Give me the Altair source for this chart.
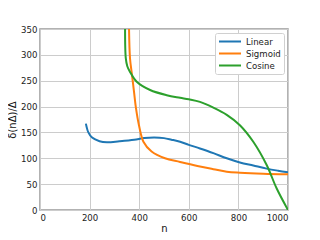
import altair as alt
import pandas as pd

linear_n = [185, 195, 210, 240, 270, 320, 380, 420, 460, 500, 530, 565, 600, 645, 699, 753, 806, 860, 914, 960, 1000]
linear_v = [167, 150, 140, 133, 131, 133, 136, 139, 140, 139, 136, 132, 126, 119, 110, 100, 92, 86, 80, 76, 73]

sigmoid_n = [359, 363, 371, 379, 387, 399, 417, 450, 504, 565, 645, 699, 753, 806, 900, 1000]
sigmoid_v = [350, 293, 261, 229, 197, 164, 132, 113, 100, 93, 84, 79, 74, 72, 70, 69]

cosine_n = [343, 346, 352, 363, 390, 444, 511, 565, 600, 645, 699, 753, 806, 860, 914, 954, 1000]
cosine_v = [350, 293, 278, 267, 248, 232, 222, 217, 214, 209, 198, 184, 164, 132, 87, 42, 0]

rows = []
for name, ns, vs in [("Linear", linear_n, linear_v), ("Sigmoid", sigmoid_n, sigmoid_v), ("Cosine", cosine_n, cosine_v)]:
    for n, v in zip(ns, vs):
        rows.append({"n": n, "v": v, "series": name})
df = pd.DataFrame(rows)

order = ["Linear", "Sigmoid", "Cosine"]
colors = ["#1f77b4", "#ff7f0e", "#2ca02c"]

chart = alt.Chart(df).mark_line(strokeWidth=2, clip=True, interpolate="catmull-rom").encode(
    x=alt.X("n:Q", scale=alt.Scale(domain=[0, 1000], nice=False),
            axis=alt.Axis(values=[0, 200, 400, 600, 800, 1000], title="n", format="d")),
    y=alt.Y("v:Q", scale=alt.Scale(domain=[0, 350], nice=False),
            axis=alt.Axis(values=[0, 50, 100, 150, 200, 250, 300, 350], title="δ(nΔ)/Δ")),
    color=alt.Color("series:N", scale=alt.Scale(domain=order, range=colors),
                    sort=order,
                    legend=alt.Legend(title=None, orient="top-right", offset=4, symbolType="stroke",
                                      symbolSize=484, symbolStrokeWidth=2, labelFontSize=8.6,
                                      labelFont="DejaVu Sans", strokeColor="#d0d0d0", fillColor="white",
                                      padding=3, cornerRadius=2, rowPadding=1, clipHeight=11,
                                      labelOffset=4, labelColor="#222")),
    detail="series:N",
    order="n:Q",
).properties(
    width=248, height=181,
    autosize=alt.AutoSizeParams(type="none"),
    padding={"left": 32, "top": 21, "right": 24, "bottom": 30},
).configure_view(
    stroke="#999999", strokeWidth=1.5
).configure_axis(
    grid=True, gridColor="#cccccc", gridWidth=1, domain=False, ticks=False,
    labelFont="DejaVu Sans", labelFontSize=8.6, labelColor="#222", labelPadding=3,
    titleFont="DejaVu Sans", titleFontSize=10, titleFontWeight="normal", titleColor="#111",
).configure_axisY(
    titlePadding=3
).configure_axisX(
    titlePadding=2
)

chart.save("out.html", embed_options={"renderer": "svg", "actions": False})
